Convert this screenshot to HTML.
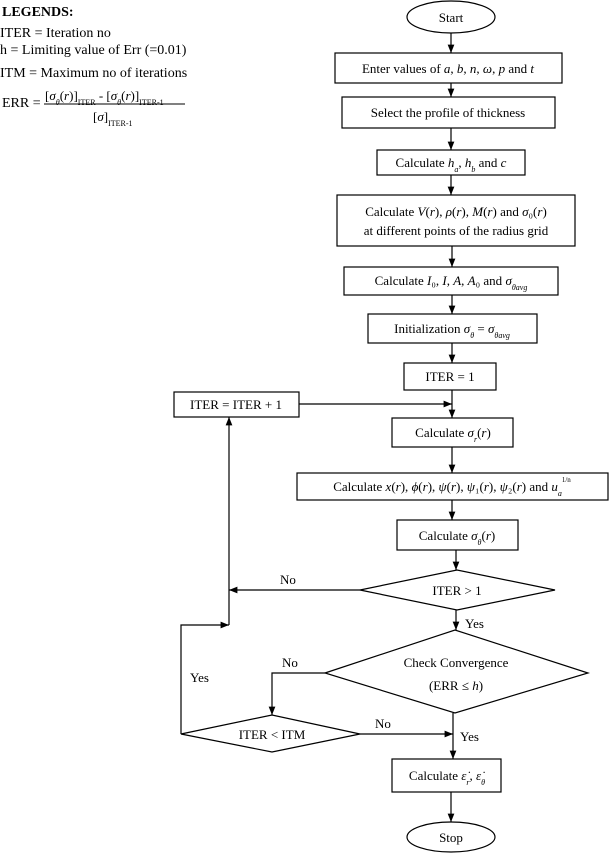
<!DOCTYPE html>
<html><head><meta charset="utf-8"><style>
body{margin:0;background:#fff}
svg{display:block}
text{font-family:"Liberation Serif",serif;font-size:13px;fill:#000}
.i{font-style:italic}
.s{font-size:8px;baseline-shift:sub}
.lg{font-size:14px}
</style></head><body>
<svg width="609" height="856" viewBox="0 0 609 856" xmlns="http://www.w3.org/2000/svg">
<defs><marker id="a" viewBox="0 0 10 10" refX="10" refY="5" markerWidth="7" markerHeight="7" orient="auto"><path d="M0,1 L10,5 L0,9z" fill="#000"/></marker></defs>
<g fill="none" stroke="#000" stroke-width="1.2">
<ellipse cx="451" cy="17" rx="44" ry="16"/>
<rect x="335" y="53" width="227" height="30"/>
<rect x="342" y="97" width="213" height="31"/>
<rect x="377" y="150" width="148" height="25"/>
<rect x="337" y="195" width="238" height="51"/>
<rect x="344" y="267" width="214" height="28"/>
<rect x="368" y="314" width="169" height="29"/>
<rect x="404" y="363" width="92" height="27"/>
<rect x="174" y="392" width="125" height="25"/>
<rect x="392" y="418" width="121" height="29"/>
<rect x="297" y="473" width="311" height="27"/>
<rect x="397" y="520" width="121" height="30"/>
<polygon points="360,590 457,570 555,590 457,610"/>
<polygon points="325,673 455,630 588,673 455,713"/>
<polygon points="181,734 272,715 360,734 272,752"/>
<rect x="392" y="759" width="109" height="33"/>
<ellipse cx="451" cy="837" rx="44" ry="15"/>
</g>
<g stroke="#000" stroke-width="1.2" fill="none" marker-end="url(#a)">
<line x1="451" y1="33" x2="451" y2="53"/>
<line x1="451" y1="83" x2="451" y2="97"/>
<line x1="451" y1="128" x2="451" y2="150"/>
<line x1="451" y1="175" x2="451" y2="195"/>
<line x1="452" y1="246" x2="452" y2="267"/>
<line x1="452" y1="295" x2="452" y2="314"/>
<line x1="452" y1="343" x2="452" y2="363"/>
<line x1="452" y1="390" x2="452" y2="418"/>
<line x1="299" y1="404" x2="452" y2="404"/>
<line x1="452" y1="447" x2="452" y2="473"/>
<line x1="452" y1="500" x2="452" y2="520"/>
<line x1="456" y1="550" x2="456" y2="570"/>
<line x1="360" y1="590" x2="229" y2="590"/>
<line x1="229" y1="625" x2="229" y2="417"/>
<line x1="456" y1="610" x2="456" y2="630"/>
<polyline points="325,673 272,673 272,715"/>
<polyline points="181,734 181,625 229,625"/>
<line x1="360" y1="734" x2="453" y2="734"/>
<line x1="453" y1="713" x2="453" y2="759"/>
<line x1="451" y1="792" x2="451" y2="822"/>
</g>
<g>
<text x="2" y="16" font-weight="bold" class="lg">LEGENDS:</text>
<text x="0" y="37" class="lg">ITER = Iteration no</text>
<text x="0" y="54" class="lg">h = Limiting value of Err (=0.01)</text>
<text x="0" y="77" class="lg">ITM = Maximum no of iterations</text>
<text x="2" y="107" class="lg">ERR =</text>
<text x="45" y="100" font-size="15">[<tspan class="i">σ</tspan><tspan class="s i">θ</tspan>(<tspan class="i">r</tspan>)]<tspan class="s">ITER</tspan> - [<tspan class="i">σ</tspan><tspan class="s i">θ</tspan>(<tspan class="i">r</tspan>)]<tspan class="s">ITER-1</tspan></text>
<line x1="44" y1="104" x2="185" y2="104" stroke="#000" stroke-width="1"/>
<text x="93" y="121" font-size="15">[<tspan class="i">σ</tspan>]<tspan class="s">ITER-1</tspan></text>
<text x="451" y="22" text-anchor="middle">Start</text>
<text x="448" y="73" text-anchor="middle">Enter values of <tspan class="i">a</tspan>, <tspan class="i">b</tspan>, <tspan class="i">n</tspan>, <tspan class="i">ω</tspan>, <tspan class="i">p</tspan> and <tspan class="i">t</tspan></text>
<text x="448" y="117" text-anchor="middle">Select the profile of thickness</text>
<text x="451" y="167" text-anchor="middle">Calculate <tspan class="i">h</tspan><tspan class="s i">a</tspan>, <tspan class="i">h</tspan><tspan class="s i">b</tspan> and <tspan class="i">c</tspan></text>
<text x="456" y="216" text-anchor="middle">Calculate <tspan class="i">V</tspan>(<tspan class="i">r</tspan>), <tspan class="i">ρ</tspan>(<tspan class="i">r</tspan>), <tspan class="i">M</tspan>(<tspan class="i">r</tspan>) and <tspan class="i">σ</tspan>₀(<tspan class="i">r</tspan>)</text>
<text x="456" y="235" text-anchor="middle">at different points of the radius grid</text>
<text x="451" y="285" text-anchor="middle">Calculate <tspan class="i">I</tspan>₀, <tspan class="i">I</tspan>, <tspan class="i">A</tspan>, <tspan class="i">A</tspan>₀ and <tspan class="i">σ</tspan><tspan class="s i">θavg</tspan></text>
<text x="452" y="333" text-anchor="middle">Initialization <tspan class="i">σ</tspan><tspan class="s i">θ</tspan> = <tspan class="i">σ</tspan><tspan class="s i">θavg</tspan></text>
<text x="450" y="381" text-anchor="middle">ITER = 1</text>
<text x="236" y="409" text-anchor="middle">ITER = ITER + 1</text>
<text x="453" y="437" text-anchor="middle">Calculate <tspan class="i">σ</tspan><tspan class="s i">r</tspan>(<tspan class="i">r</tspan>)</text>
<text x="452" y="491" text-anchor="middle">Calculate <tspan class="i">x</tspan>(<tspan class="i">r</tspan>), <tspan class="i">ϕ</tspan>(<tspan class="i">r</tspan>), <tspan class="i">ψ</tspan>(<tspan class="i">r</tspan>), <tspan class="i">ψ</tspan>₁(<tspan class="i">r</tspan>), <tspan class="i">ψ</tspan>₂(<tspan class="i">r</tspan>) and <tspan class="i">u</tspan><tspan class="s i">a</tspan><tspan font-size="7" dy="-9">1/n</tspan></text>
<text x="457" y="540" text-anchor="middle">Calculate <tspan class="i">σ</tspan><tspan class="s i">θ</tspan>(<tspan class="i">r</tspan>)</text>
<text x="457" y="595" text-anchor="middle">ITER &gt; 1</text>
<text x="280" y="584">No</text>
<text x="465" y="628">Yes</text>
<text x="456" y="667" text-anchor="middle">Check Convergence</text>
<text x="456" y="690" text-anchor="middle">(ERR ≤ <tspan class="i">h</tspan>)</text>
<text x="282" y="667">No</text>
<text x="190" y="682">Yes</text>
<text x="272" y="739" text-anchor="middle">ITER &lt; ITM</text>
<text x="375" y="728">No</text>
<text x="460" y="741">Yes</text>
<text x="447" y="780" text-anchor="middle">Calculate <tspan class="i">ε̇</tspan><tspan class="s i">r</tspan>, <tspan class="i">ε̇</tspan><tspan class="s i">θ</tspan></text>
<text x="451" y="842" text-anchor="middle">Stop</text>
</g>
</svg>
</body></html>
